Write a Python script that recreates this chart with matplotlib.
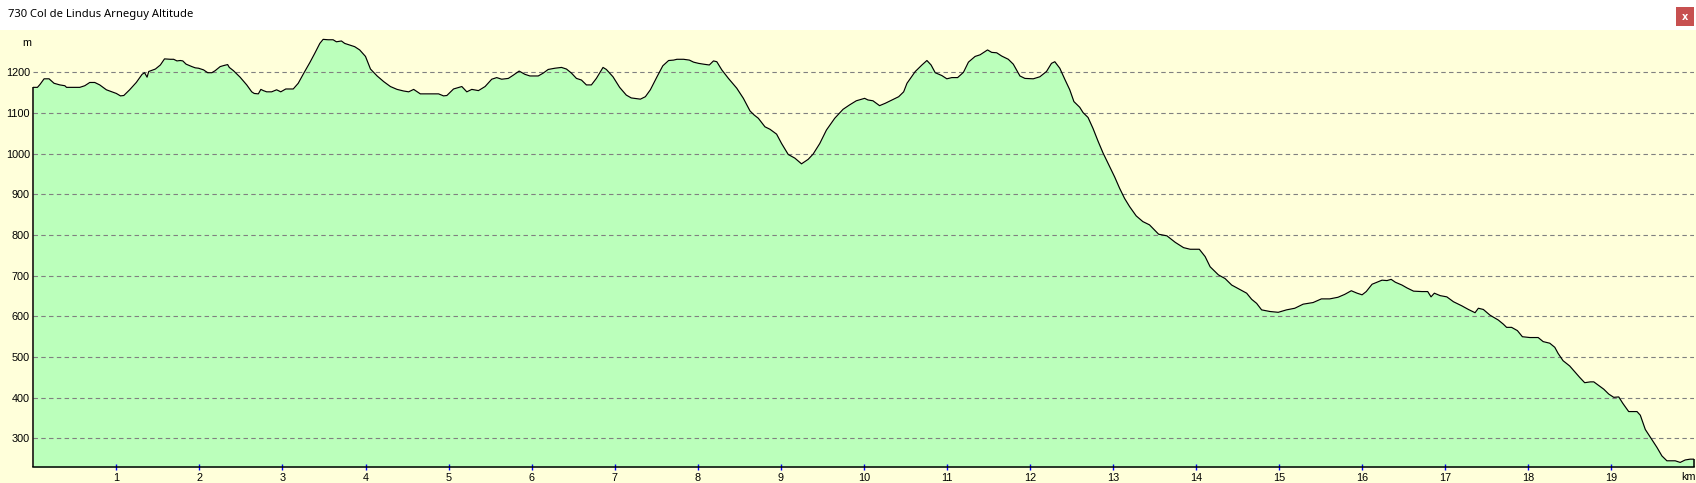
import matplotlib
matplotlib.use("Agg")
import matplotlib.pyplot as plt
from matplotlib.patches import Rectangle

title = "730 Col de Lindus Arneguy Altitude"
x_unit = "km"
y_unit = "m"

km = [0.00, 0.05, 0.08, 0.13, 0.19, 0.25, 0.32, 0.38, 0.40, 0.56, 0.62, 0.68, 0.74, 0.80, 0.88,
      1.00, 1.05, 1.09, 1.16, 1.24, 1.31, 1.34, 1.37, 1.39, 1.47, 1.53, 1.58, 1.65, 1.69, 1.73,
      1.77, 1.80, 1.84, 1.91, 1.95, 1.99, 2.05, 2.10, 2.15, 2.19, 2.25, 2.30, 2.34, 2.36, 2.41,
      2.49, 2.57, 2.63, 2.66, 2.71, 2.74, 2.77, 2.81, 2.87, 2.93, 2.98, 3.04, 3.13, 3.19, 3.26,
      3.33, 3.39, 3.45, 3.49, 3.55, 3.61, 3.65, 3.71, 3.75, 3.81, 3.87, 3.93, 4.00, 4.06, 4.14,
      4.22, 4.30, 4.38, 4.46, 4.52, 4.58, 4.66, 4.88, 4.94, 4.98,
      5.02, 5.06, 5.16, 5.22, 5.28, 5.36, 5.44, 5.52, 5.58, 5.64, 5.72, 5.78, 5.85, 5.92, 5.98,
      6.08, 6.14, 6.20, 6.28, 6.36, 6.42, 6.48, 6.54, 6.60, 6.66, 6.72, 6.78, 6.83, 6.86, 6.90,
      6.98, 7.06, 7.14, 7.20, 7.31, 7.37, 7.43, 7.51, 7.58, 7.65, 7.71, 7.75, 7.83, 7.90, 7.95,
      8.01, 8.07, 8.14, 8.19, 8.23, 8.29, 8.37, 8.47, 8.55, 8.63, 8.68, 8.73, 8.81, 8.87, 8.95,
      9.01, 9.09, 9.17, 9.25, 9.33, 9.39, 9.47, 9.55, 9.65, 9.75, 9.83, 9.91, 10.01, 10.05, 10.11,
      10.19,
      10.26, 10.34, 10.42, 10.48, 10.52, 10.62, 10.70, 10.76, 10.81, 10.86, 10.94, 11.00, 11.06,
      11.13, 11.20, 11.26, 11.34, 11.40, 11.49, 11.54, 11.60, 11.66, 11.74, 11.80, 11.88, 11.94,
      12.04, 12.12, 12.20, 12.26, 12.30, 12.36, 12.42, 12.48, 12.53, 12.60, 12.64, 12.70, 12.76,
      12.82, 12.88, 12.96, 13.02, 13.08, 13.14, 13.20, 13.28, 13.36, 13.44, 13.55, 13.65, 13.75,
      13.85, 13.93, 14.04, 14.11, 14.17, 14.27, 14.35, 14.43, 14.53, 14.61, 14.67, 14.73, 14.79,
      14.89, 14.99,
      15.09, 15.19, 15.29, 15.41, 15.51, 15.61, 15.71, 15.79, 15.87, 15.94, 16.00, 16.05, 16.12,
      16.18, 16.24, 16.30, 16.35, 16.40, 16.48, 16.54, 16.62, 16.72, 16.79, 16.83, 16.87, 16.94,
      17.02, 17.10, 17.20, 17.28, 17.36, 17.40, 17.46, 17.54, 17.64, 17.70, 17.74, 17.80, 17.87,
      17.93, 18.02, 18.12, 18.18, 18.26, 18.32, 18.36, 18.42, 18.50, 18.56, 18.62, 18.68, 18.75,
      18.79, 18.85, 18.91, 18.97, 19.03, 19.09, 19.14, 19.21, 19.31, 19.35, 19.41, 19.47, 19.55,
      19.61, 19.67, 19.77, 19.83, 19.89, 19.95, 20.00]

elev = [1163, 1163, 1170, 1184, 1184, 1173, 1169, 1167, 1163, 1163, 1167, 1175, 1175, 1169, 1157,
        1148, 1142, 1143, 1157, 1175, 1195, 1199, 1188, 1202, 1208, 1218, 1233, 1232, 1232, 1228,
        1229, 1228, 1220, 1214, 1211, 1210, 1206, 1199, 1199, 1204, 1214, 1217, 1219, 1212, 1204,
        1188, 1169, 1152, 1148, 1147, 1158, 1155, 1152, 1152, 1157, 1152, 1159, 1159, 1173, 1199,
        1224, 1247, 1271, 1281, 1280, 1280, 1275, 1277, 1271, 1267, 1263, 1255, 1239, 1208, 1191,
        1177, 1165, 1158, 1154, 1152, 1158, 1147, 1147, 1142, 1143,
        1151, 1159, 1165, 1152, 1158, 1155, 1165, 1183, 1187, 1183, 1185, 1193, 1203, 1195, 1191,
        1191, 1198, 1207, 1210, 1212, 1208, 1198, 1185, 1181, 1169, 1169, 1185, 1202, 1212, 1207,
        1189, 1163, 1144, 1137, 1134, 1140, 1157, 1189, 1216, 1229, 1230, 1232, 1232, 1230, 1225,
        1222, 1220, 1218, 1228, 1226, 1206, 1185, 1161, 1136, 1105, 1095, 1087, 1066, 1060, 1048,
        1025, 998, 989, 975, 986, 999, 1025, 1058, 1087, 1109, 1120, 1130, 1136, 1132, 1130,
        1118,
        1124, 1132, 1140, 1152, 1173, 1202, 1218, 1229, 1218, 1199, 1192, 1184, 1187,
        1187, 1200, 1225, 1239, 1243, 1255, 1249, 1248, 1240, 1232, 1220, 1191, 1185,
        1184, 1189, 1202, 1222, 1226, 1210, 1183, 1157, 1128, 1114, 1101, 1089, 1062,
        1031, 1002, 968, 943, 915, 890, 870, 847, 833, 825, 802, 798, 782,
        769, 765, 765, 747, 722, 702, 693, 677, 666, 657, 642, 632, 616,
        612, 610,
        616, 620, 630, 634, 643, 643, 647, 654, 663, 657, 653, 661, 679,
        684, 689, 688, 691, 684, 677, 670, 662, 661, 661, 648, 657, 651,
        648, 636, 626, 617, 609, 620, 617, 603, 591, 581, 573, 573, 565,
        550, 548, 548, 538, 534, 524, 509, 491, 478, 464, 450, 437, 439,
        439, 430, 421, 409, 401, 402, 386, 366, 366, 357, 322, 303, 278,
        257, 245, 245, 241, 247, 249, 249]

y_ticks = [300, 400, 500, 600, 700, 800, 900, 1000, 1100, 1200]
x_ticks = list(range(1, 20))

BG = "#FFFFDA"
GREEN = "#BBFFBB"
GRID = "#808080"

W, H = 1696, 483
fig = plt.figure(figsize=(W / 100, H / 100), dpi=100, facecolor=BG)

# title bar
fig.patches.append(Rectangle((0, 1 - 29.5 / H), 1, 29.5 / H, transform=fig.transFigure,
                             facecolor="white", edgecolor="none", zorder=0))
fig.patches.append(Rectangle((1676 / W, 1 - 26 / H), 18 / W, 19.3 / H, transform=fig.transFigure,
                             facecolor="#C75050", edgecolor="none", zorder=1))
fig.text(1685 / W, 1 - 16.5 / H, "x", color="white", fontsize=7, fontweight="bold",
         ha="center", va="center", family="DejaVu Sans")
t = fig.text(8 / W, 1 - 15 / H, title, fontsize=9, ha="left", va="center",
             family="Noto Sans", color="#000000")
fig.canvas.draw()
w = t.get_window_extent().width
t.set_fontsize(9 * 185 / w)

ax = fig.add_axes([33.3 / W, (H - 467.3) / H, (1694.3 - 33.3) / W, (467.3 - 30) / H])
ax.set_facecolor(BG)
ymin, ymax = 229, 1304
ax.set_xlim(0, 20)
ax.set_ylim(ymin, ymax)

ax.fill_between(km, elev, ymin, color=GREEN, lw=0, zorder=1)
for yt in y_ticks:
    ax.axhline(yt, color=GRID, lw=0.8, ls=(0, (4, 3)), zorder=2)
ax.plot(km, elev, color="black", lw=0.85, zorder=3)
ax.vlines([km[0], km[-1]], ymin, [elev[0], elev[-1]], color="black", lw=1.1, zorder=3,
          clip_on=False)

for s in ["top", "right", "left"]:
    ax.spines[s].set_visible(False)
ax.spines["bottom"].set_color("black")
ax.spines["bottom"].set_linewidth(1.1)
ax.spines["bottom"].set_zorder(4)

ax.set_yticks(y_ticks)
ax.set_yticklabels([str(v) for v in y_ticks], family="Liberation Sans", fontsize=7.8)
ax.tick_params(axis="y", length=0, pad=2.5)
ax.set_xticks(x_ticks)
ax.set_xticklabels([str(v) for v in x_ticks], family="Liberation Sans", fontsize=7.8)
ax.tick_params(axis="x", direction="inout", length=4.5, width=1, color="#0000FF", pad=1.5)

fig.text(1688 / W, 1 - 477 / H, x_unit, fontsize=7.8, family="Liberation Sans",
         ha="center", va="center")
fig.text(27 / W, 1 - 43.5 / H, y_unit, fontsize=7.8, family="Liberation Sans",
         ha="center", va="center")

fig.savefig("out.png", dpi=100, facecolor=BG)
